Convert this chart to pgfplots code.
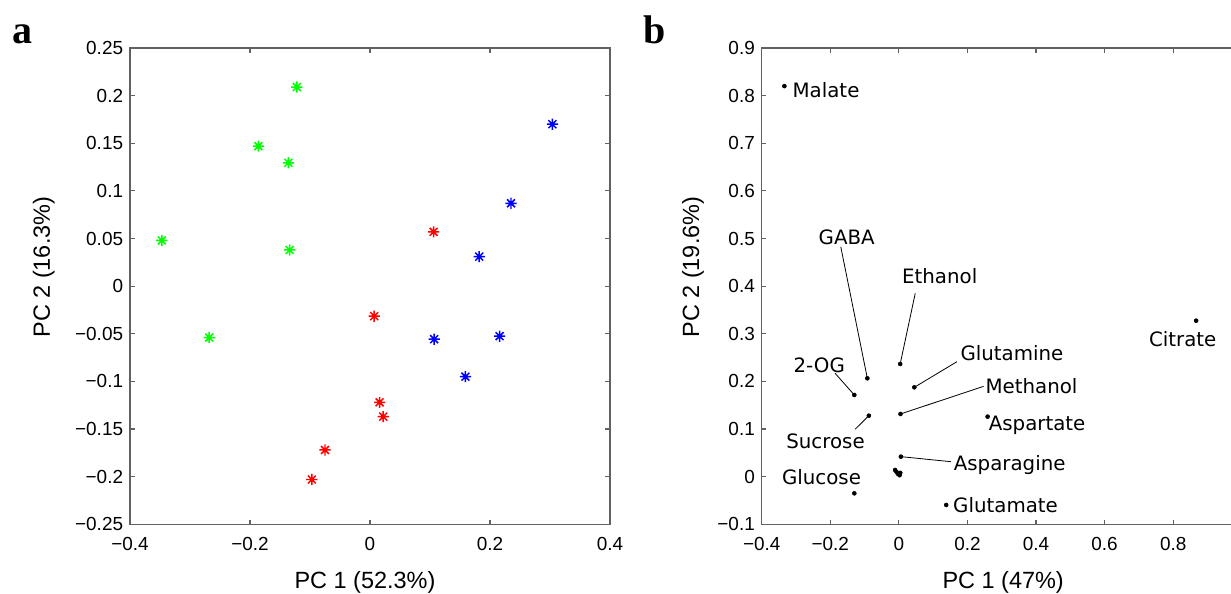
\documentclass[border=0pt]{standalone}
\usepackage{pgfplots}
\pgfplotsset{compat=1.18}
\usepackage{fontspec}
\setmainfont{Liberation Sans}
\newfontfamily\labfont{DejaVu Sans}
\newfontfamily\panelfont{Liberation Serif}
\definecolor{axgray}{gray}{0.38}

\pgfdeclareplotmark{mstar}{%
  \pgfpathmoveto{\pgfqpoint{-\pgfplotmarksize}{0pt}}\pgfpathlineto{\pgfqpoint{\pgfplotmarksize}{0pt}}%
  \pgfpathmoveto{\pgfqpoint{0pt}{-\pgfplotmarksize}}\pgfpathlineto{\pgfqpoint{0pt}{\pgfplotmarksize}}%
  \pgfpathmoveto{\pgfqpoint{-0.7071\pgfplotmarksize}{-0.7071\pgfplotmarksize}}\pgfpathlineto{\pgfqpoint{0.7071\pgfplotmarksize}{0.7071\pgfplotmarksize}}%
  \pgfpathmoveto{\pgfqpoint{-0.7071\pgfplotmarksize}{0.7071\pgfplotmarksize}}\pgfpathlineto{\pgfqpoint{0.7071\pgfplotmarksize}{-0.7071\pgfplotmarksize}}%
  \pgfusepathqstroke}

\pgfplotsset{
  matlab/.style={
    scale only axis, width=360pt, height=357.2pt,
    clip=false,
    axis line style={axgray, line width=1.1pt},
    tick style={axgray, line width=0.9pt},
    major tick length=3.5pt,
    tick align=inside,
    ticklabel style={font=\fontsize{14.2pt}{16pt}\selectfont, text=black},
    xticklabel style={anchor=base, yshift=-19.5pt, inner sep=0pt},
    yticklabel style={anchor=east, xshift=-5pt, inner sep=0pt},
    label style={font=\fontsize{17.6pt}{20pt}\selectfont},
    xlabel style={anchor=base},
    ylabel style={anchor=base},
  },
  star/.style={only marks, mark=mstar, mark size=4.2pt, line width=1.1pt},
}

\begin{document}
\begin{tikzpicture}
% Panel a
\begin{axis}[matlab,
  at={(97.5pt,-393.2pt)}, anchor=south west,
  xmin=-0.4, xmax=0.4, ymin=-0.25, ymax=0.25,
  xtick={-0.4,-0.2,0,0.2,0.4},
  xticklabels={−0.4,−0.2,0,0.2,0.4},
  ytick={-0.25,-0.2,-0.15,-0.1,-0.05,0,0.05,0.1,0.15,0.2,0.25},
  yticklabels={−0.25,−0.2,−0.15,−0.1,−0.05,0,0.05,0.1,0.15,0.2,0.25},
  xlabel={PC 1 (52.3\%)},
  ylabel={PC 2 (16.3\%)},
  xlabel style={at={(axis description cs:0.4896,-0.1344)}},
  ylabel style={at={(axis description cs:-0.1667,0.54)}},
]
\addplot[star, color={rgb,1:red,0;green,1;blue,0}] coordinates {
  (-0.122,0.209) (-0.186,0.147) (-0.136,0.1295) (-0.347,0.048) (-0.134,0.038) (-0.268,-0.054)};
\addplot[star, color={rgb,1:red,1;green,0;blue,0}] coordinates {
  (0.106,0.057) (0.007,-0.0315) (0.016,-0.122) (0.022,-0.137) (-0.075,-0.172) (-0.097,-0.203)};
\addplot[star, color={rgb,1:red,0;green,0;blue,1}] coordinates {
  (0.304,0.170) (0.235,0.087) (0.182,0.031) (0.107,-0.0557) (0.216,-0.0525) (0.159,-0.095)};
\end{axis}

% Panel b
\begin{axis}[matlab,
  at={(571.3pt,-393.2pt)}, anchor=south west,
  xmin=-0.4, xmax=1, ymin=-0.1, ymax=0.9,
  xtick={-0.4,-0.2,0,0.2,0.4,0.6,0.8,1},
  xticklabels={−0.4,−0.2,0,0.2,0.4,0.6,0.8,{}},
  ytick={-0.1,0,0.1,0.2,0.3,0.4,0.5,0.6,0.7,0.8,0.9},
  yticklabels={−0.1,0,0.1,0.2,0.3,0.4,0.5,0.6,0.7,0.8,0.9},
  xlabel={PC 1 (47\%)},
  ylabel={PC 2 (19.6\%)},
  xlabel style={at={(axis description cs:0.503,-0.1344)}},
  ylabel style={at={(axis description cs:-0.1306,0.54)}},
]
\addplot[only marks, mark=*, mark size=1.5pt, black] coordinates {
  (-0.334,0.820) (-0.092,0.2065) (-0.130,0.1715) (-0.0876,0.128)
  (0.0038,0.2366) (0.045,0.1876) (0.0047,0.1316) (0.0058,0.042)
  (-0.130,-0.035) (0.138,-0.0595) (0.2587,0.126) (0.867,0.3275)
  (-0.011,0.014) (-0.007,0.010) (-0.003,0.006) (0.002,0.003) (0.004,0.008)};
% leader lines
\draw[line width=0.6pt] (axis cs:-0.1695,0.4826) -- (axis cs:-0.092,0.2065);
\draw[line width=0.6pt] (axis cs:0.0477,0.385) -- (axis cs:0.0038,0.2366);
\draw[line width=0.6pt] (axis cs:-0.186,0.217) -- (axis cs:-0.130,0.1715);
\draw[line width=0.6pt] (axis cs:-0.1276,0.0995) -- (axis cs:-0.0876,0.128);
\draw[line width=0.6pt] (axis cs:0.1693,0.2414) -- (axis cs:0.045,0.1876);
\draw[line width=0.6pt] (axis cs:0.247,0.1896) -- (axis cs:0.0047,0.1316);
\draw[line width=0.6pt] (axis cs:0.152,0.0314) -- (axis cs:0.0058,0.042);
% labels
\begin{scope}[every node/.style={anchor=base west, inner sep=0pt, font=\labfont\fontsize{14.85pt}{17pt}\selectfont}]
\node at (axis cs:-0.3107,0.7965) {Malate};
\node at (axis cs:-0.2347,0.4864) {GABA};
\node at (axis cs:0.0088,0.4066) {Ethanol};
\node at (axis cs:-0.3077,0.2183) {2-OG};
\node at (axis cs:-0.329,0.0596) {Sucrose};
\node at (axis cs:-0.3416,-0.0175) {Glucose};
\node at (axis cs:0.179,0.2435) {Glutamine};
\node at (axis cs:0.252,0.175) {Methanol};
\node at (axis cs:0.2616,0.0965) {Aspartate};
\node at (axis cs:0.1595,0.0119) {Asparagine};
\node at (axis cs:0.1577,-0.0748) {Glutamate};
\node at (axis cs:0.7288,0.2729) {Citrate};
\end{scope}
\end{axis}

\node[anchor=base west, inner sep=0pt, font=\panelfont\bfseries\fontsize{30pt}{30pt}\selectfont] at (9pt,-32.25pt) {a};
\node[anchor=base west, inner sep=0pt, font=\panelfont\bfseries\fontsize{30pt}{30pt}\selectfont] at (482.25pt,-32.25pt) {b};

\pgfresetboundingbox
\path[use as bounding box] (0,0) rectangle (923.25pt,-444.75pt);
\end{tikzpicture}
\end{document}
